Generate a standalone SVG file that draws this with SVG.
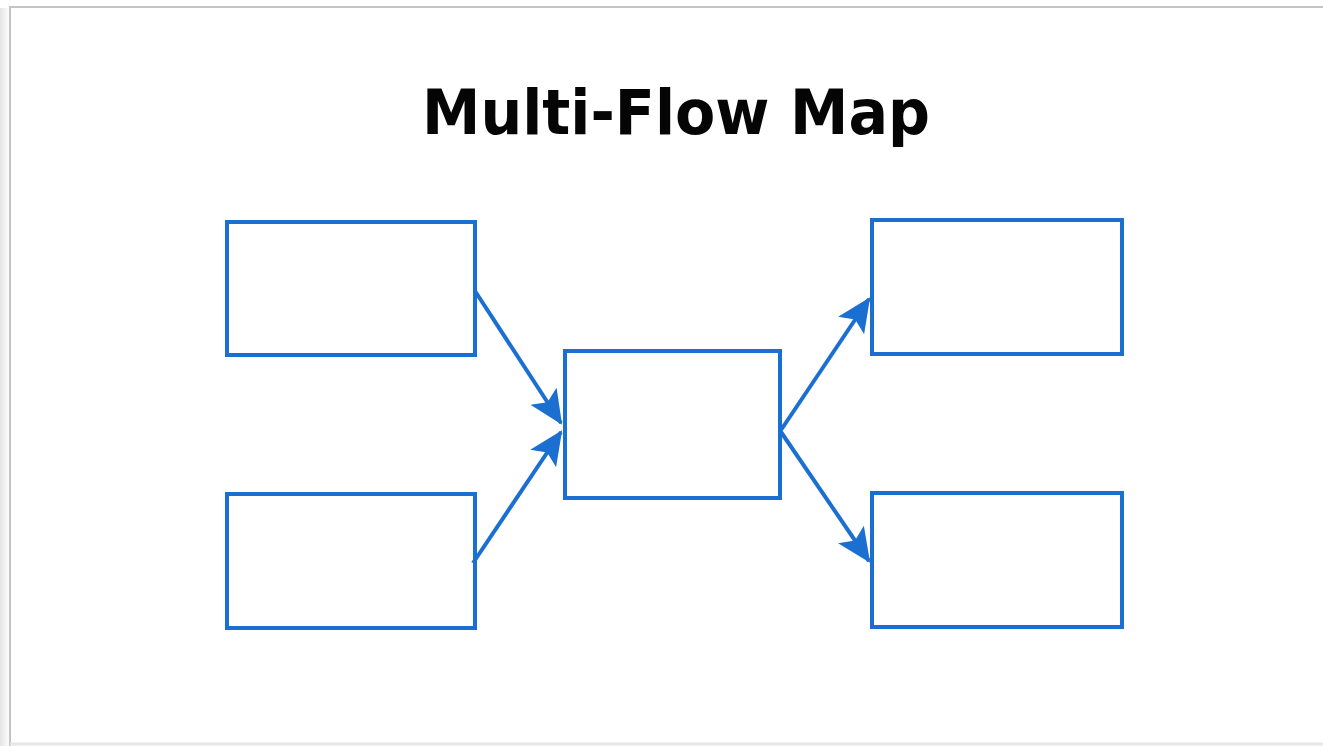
<svg xmlns="http://www.w3.org/2000/svg" width="1323" height="746" viewBox="0 0 1323 746">
<style>
.box{fill:#fff;stroke:#1b6fd1;stroke-width:4}
.conn{stroke:#1b6fd1;stroke-width:4;fill:none;marker-end:url(#ah)}
.title{font-family:"DejaVu Sans",Verdana,sans-serif;font-weight:bold;font-size:62px;fill:#050505}
</style>
<defs>
<marker id="ah" markerWidth="9" markerHeight="9" refX="8" refY="4.5" orient="auto" markerUnits="strokeWidth">
<path d="M0,0.6 L8.5,4.5 L0,8.4 L1.8,4.5 Z" fill="#1b6fd1"/>
</marker>
<linearGradient id="shl" x1="0" x2="1" y1="0" y2="0">
<stop offset="0" stop-color="#e4e4e4"/><stop offset="1" stop-color="#fff"/>
</linearGradient>
</defs>
<rect x="0" y="0" width="1323" height="746" fill="#fff"/>
<rect x="0" y="8" width="10" height="738" fill="url(#shl)"/>
<g id="frame">
<line x1="9" y1="7" x2="1323" y2="7" stroke="#c4c4c4" stroke-width="2"/>
<line x1="10" y1="7" x2="10" y2="746" stroke="#c4c4c4" stroke-width="2"/>
<line x1="10" y1="744" x2="1323" y2="744" stroke="#e6e6e6" stroke-width="3"/>
</g>
<text class="title" x="676" y="134" text-anchor="middle" textLength="508" lengthAdjust="spacingAndGlyphs">Multi-Flow Map</text>
<g id="node-left-top"><rect class="box" x="227" y="222" width="248" height="133"/></g>
<g id="node-left-bottom"><rect class="box" x="227" y="494" width="248" height="134"/></g>
<g id="node-center"><rect class="box" x="565" y="351" width="215" height="147"/></g>
<g id="node-right-top"><rect class="box" x="872" y="220" width="250" height="134"/></g>
<g id="node-right-bottom"><rect class="box" x="872" y="493" width="250" height="134"/></g>
<g id="connectors">
<line class="conn" x1="475" y1="291" x2="561" y2="423"/>
<line class="conn" x1="473" y1="563" x2="561" y2="432"/>
<line class="conn" x1="781" y1="430" x2="869" y2="299"/>
<line class="conn" x1="781" y1="432" x2="869" y2="561"/>
</g>
</svg>
